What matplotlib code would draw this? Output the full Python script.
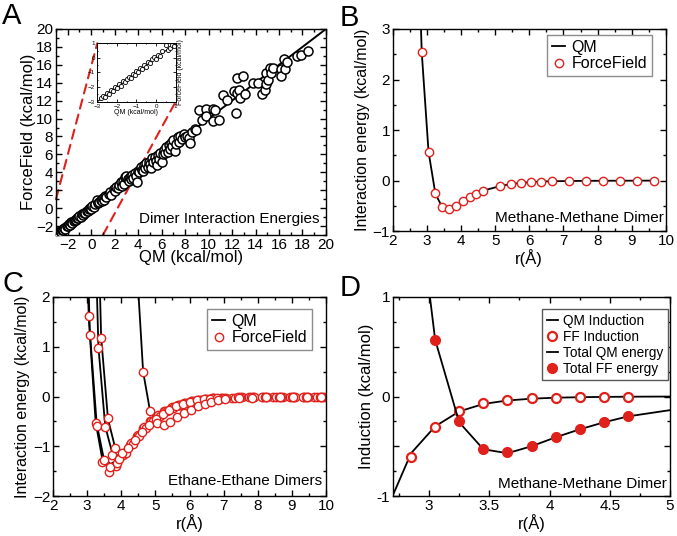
import matplotlib
matplotlib.use('Agg')
import matplotlib.pyplot as plt
from matplotlib.patches import ConnectionPatch
from matplotlib.ticker import MultipleLocator, FuncFormatter

plt.rcParams['font.family'] = ['Liberation Sans', 'DejaVu Sans']

RED = '#e0201b'

# ---------------- Panel A data: QM vs ForceField dimer interaction energies
A_qm = [-2.8, -2.7, -2.6, -2.5, -2.4, -2.3, -2.2, -2.1, -2.0, -1.9, -1.8, -1.7, -1.6, -1.5,
        -1.4, -1.3, -1.2, -1.1, -1.0, -0.9, -0.8, -0.7, -0.6, -0.5, -0.4, -0.3, -0.2, -0.1,
        0.0, 0.1, 0.2, 0.3, 0.5, 0.6, 0.7, 0.8, 0.9, 1.0, 1.1, 1.2, 1.3, 1.5, 1.6, 1.7, 1.9,
        2.0, 2.1, 2.3,
        2.4, 2.5, 2.6, 2.7, 2.8, 2.9, 3.0, 3.1, 3.2, 3.3, 3.4, 3.5, 3.6, 3.7, 3.8, 3.9, 4.0,
        4.1, 4.2, 4.3, 4.4, 4.5, 4.6, 4.7, 4.8, 4.9, 5.0, 5.1, 5.2, 5.3, 5.4, 5.5, 5.6, 5.7,
        5.8, 5.9, 6.0, 6.1, 6.2,
        6.3, 6.4, 6.5, 6.6, 6.7, 6.8, 6.9, 7.0, 7.1, 7.2, 7.4, 7.5, 7.6, 7.7, 7.9, 8.0, 8.2,
        8.3, 8.4, 8.6, 8.8, 8.9,
        9.2, 9.4, 9.8, 9.8, 10.35, 10.4, 10.55, 10.9, 11.2, 11.55, 12.15, 12.35, 12.4, 12.45,
        12.55, 12.7, 12.9, 13.1, 13.75, 14.2, 14.55, 14.8, 14.9, 14.9, 15.1, 15.2, 15.35,
        15.5, 16.2, 16.2, 16.4, 16.5, 16.7, 17.5, 17.9, 18.5]
A_ff = [-2.75, -2.6, -2.65, -2.4, -2.45, -2.2, -2.3, -2.0, -2.05, -1.8, -1.9, -1.6, -1.65, -1.45,
        -1.3, -1.35, -1.1, -1.15, -0.9, -0.95, -0.7, -0.75, -0.5, -0.6, -0.3, -0.35, -0.1, 0.05,
        -0.05, 0.2, 0.1, 0.45, 0.9, 0.55, 0.65, 0.9, 0.8, 1.1, 0.95, 1.3, 1.2, 1.6, 1.8, 1.5, 2.1,
        1.9, 2.4, 2.2,
        2.6, 2.9, 2.5, 3.0, 2.7, 3.5, 3.6, 3.2, 3.0, 3.5, 3.3, 3.7, 3.4, 3.9, 3.6, 2.9, 4.2,
        4.0, 4.6, 4.3, 4.1, 4.8, 4.5, 5.0, 4.6, 5.2, 4.9, 4.5, 5.6, 5.1, 5.7, 5.3, 4.8, 5.9,
        5.5, 6.2, 5.2, 6.0, 6.5,
        6.1, 6.8, 6.3, 7.1, 6.6, 7.3, 6.9, 7.6, 6.4, 7.2, 7.9, 7.4, 8.1, 7.7, 8.3, 7.9, 8.0,
        7.8, 7.3, 8.5, 8.8, 8.7,
        11.0, 9.8, 11.1, 10.3, 11.1, 9.7, 11.0, 9.8, 12.6, 12.1, 13.1, 10.6, 12.8, 14.55,
        13.2, 12.3, 14.75, 12.7, 14.0, 14.0, 12.7, 13.2, 13.9, 15.05, 14.3, 15.6, 15.05,
        15.6, 15.5, 14.7, 16.7, 15.5, 16.35, 17.0, 17.1, 17.5]

# ---------------- Panel B data: methane-methane dimer scan
B_r_qm = [2.65, 2.85, 3.05, 3.25, 3.45, 3.65, 3.85, 4.05, 4.25, 4.45, 4.65, 5.15, 5.45,
          5.75, 6.05, 6.35, 6.65, 7.15, 7.65, 8.15, 8.65, 9.15, 9.65]
B_qm = [7.0, 2.55, 0.57, -0.26, -0.53, -0.57, -0.5, -0.41, -0.33, -0.26, -0.2, -0.11, -0.07,
        -0.05, -0.03, -0.02, -0.015, -0.01, -0.007, -0.005, -0.004, -0.003, -0.002]
B_r_ff = [2.85, 3.05, 3.25, 3.45, 3.65, 3.85, 4.05, 4.25, 4.45, 4.65, 5.15, 5.45,
          5.75, 6.05, 6.35, 6.65, 7.15, 7.65, 8.15, 8.65, 9.15, 9.65]
B_ff = [2.55, 0.57, -0.25, -0.53, -0.56, -0.5, -0.41, -0.33, -0.26, -0.2, -0.11, -0.07,
        -0.05, -0.03, -0.02, -0.015, -0.01, -0.007, -0.005, -0.004, -0.003, -0.002]

# ---------------- Panel C data: ethane-ethane dimers (five orientations)
C_r_a = [2.85, 3.05, 3.25, 3.45, 3.65, 3.85, 4.05, 4.25, 4.45, 4.65, 4.85, 5.05, 5.25, 5.45,
         5.65, 5.85, 6.05, 6.25, 6.45, 6.65, 6.95, 7.25, 7.55, 7.85, 8.15, 8.45, 8.75, 9.05,
         9.35, 9.65, 9.95]
C_qm_a = [6.0, 1.55, -0.52, -1.28, -1.45, -1.35, -1.15, -0.95, -0.77, -0.62, -0.49, -0.38,
          -0.29, -0.22, -0.17, -0.12, -0.09, -0.07, -0.05, -0.04, -0.03, -0.02, -0.015, -0.01,
          -0.008, -0.006, -0.005, -0.004, -0.003, -0.002, -0.001]
C_ff_a = [6.1, 1.62, -0.53, -1.31, -1.51, -1.39, -1.17, -0.97, -0.8, -0.64, -0.5, -0.4,
          -0.3, -0.23, -0.17, -0.13, -0.1, -0.07, -0.05, -0.04, -0.03, -0.02, -0.015, -0.01,
          -0.008, -0.006, -0.005, -0.004, -0.003, -0.002, -0.001]

C_r_b = [2.88, 3.08, 3.28, 3.48, 3.68, 3.88, 4.08, 4.28, 4.48, 4.68, 4.88, 5.08, 5.28, 5.48,
         5.68, 5.88, 6.08, 6.28, 6.48, 6.68, 7.08, 7.48, 7.88, 8.28, 8.68, 9.08, 9.48, 9.88]
C_qm_b = [6.0, 1.3, -0.55, -1.22, -1.36, -1.28, -1.1, -0.92, -0.75, -0.6, -0.47, -0.37,
          -0.28, -0.21, -0.16, -0.12, -0.09, -0.07, -0.05, -0.04, -0.025, -0.015, -0.01,
          -0.007, -0.005, -0.003, -0.002, -0.001]
C_ff_b = [6.1, 1.24, -0.59, -1.27, -1.42, -1.33, -1.13, -0.94, -0.77, -0.62, -0.49, -0.38,
          -0.29, -0.22, -0.17, -0.13, -0.1, -0.07, -0.05, -0.04, -0.025, -0.015, -0.01,
          -0.007, -0.005, -0.003, -0.002, -0.001]

C_r_c = [3.13, 3.33, 3.53, 3.73, 3.93, 4.13, 4.33, 4.53, 4.73, 4.93, 5.13, 5.33, 5.53, 5.73,
         5.93, 6.13, 6.33, 6.53, 6.73, 6.93, 7.33, 7.73, 8.13, 8.53, 8.93, 9.33, 9.73]
C_qm_c = [6.0, 1.0, -0.6, -1.12, -1.2, -1.1, -0.93, -0.77, -0.62, -0.49, -0.38, -0.29,
          -0.22, -0.17, -0.13, -0.1, -0.07, -0.05, -0.04, -0.03, -0.02, -0.012, -0.008,
          -0.005, -0.003, -0.002, -0.001]
C_ff_c = [6.1, 0.97, -0.62, -1.18, -1.25, -1.14, -0.96, -0.79, -0.64, -0.5, -0.39, -0.3,
          -0.23, -0.17, -0.13, -0.1, -0.07, -0.05, -0.04, -0.03, -0.02, -0.012, -0.008,
          -0.005, -0.003, -0.002, -0.001]

C_r_d = [3.21, 3.41, 3.61, 3.81, 4.01, 4.21, 4.41, 4.61, 4.81, 5.01, 5.21, 5.41, 5.61, 5.81,
         6.01, 6.21, 6.41, 6.61, 6.81, 7.01, 7.41, 7.81, 8.21, 8.61, 9.01, 9.41, 9.81]
C_qm_d = [6.5, 1.2, -0.45, -1.0, -1.1, -1.0, -0.85, -0.7, -0.56, -0.44, -0.34, -0.26, -0.2,
          -0.15, -0.11, -0.08, -0.06, -0.045, -0.035, -0.025, -0.015, -0.01, -0.006, -0.004,
          -0.003, -0.002, -0.001]
C_ff_d = [6.6, 1.17, -0.44, -1.04, -1.13, -1.03, -0.87, -0.72, -0.57, -0.45, -0.35, -0.27,
          -0.2, -0.15, -0.11, -0.08, -0.06, -0.045, -0.035, -0.025, -0.015, -0.01, -0.006,
          -0.004, -0.003, -0.002, -0.001]

C_r_e = [4.44, 4.64, 4.84, 5.04, 5.24, 5.44, 5.64, 5.84, 6.04, 6.24, 6.44, 6.64, 6.84, 7.04,
         7.44, 7.84, 8.24, 8.64, 9.04, 9.44, 9.84]
C_qm_e = [2.8, 0.5, -0.28, -0.52, -0.56, -0.51, -0.42, -0.33, -0.26, -0.2, -0.15, -0.11,
          -0.08, -0.06, -0.035, -0.02, -0.012, -0.008, -0.005, -0.003, -0.002]
C_ff_e = [2.9, 0.49, -0.29, -0.54, -0.57, -0.51, -0.42, -0.34, -0.27, -0.2, -0.15, -0.11,
          -0.08, -0.06, -0.035, -0.02, -0.012, -0.008, -0.005, -0.003, -0.002]

# ---------------- Panel D data: induction and total energy, methane dimer
D_r_qm_ind = [2.65, 2.85, 3.05, 3.25, 3.45, 3.65, 3.85, 4.05, 4.25, 4.45, 4.65, 4.85, 5.05]
D_qm_ind = [-1.13, -0.57, -0.30, -0.15, -0.075, -0.04, -0.022, -0.012, -0.007, -0.004,
            -0.002, -0.001, -0.0005]
D_r_ff = [2.85, 3.05, 3.25, 3.45, 3.65, 3.85, 4.05, 4.25, 4.45, 4.65]
D_ff_ind = [-0.61, -0.31, -0.145, -0.07, -0.04, -0.02, -0.01, -0.006, -0.004, -0.003]
D_r_tot = [3.05, 3.25, 3.45, 3.65, 3.85, 4.05, 4.25, 4.45, 4.65]
D_ff_tot = [0.57, -0.25, -0.53, -0.56, -0.5, -0.41, -0.33, -0.26, -0.2]

fig = plt.figure(figsize=(6.77, 5.36), dpi=100)


def style(ax, xmaj, xmin, ymaj, ymin, size=11):
    ax.xaxis.set_major_locator(MultipleLocator(xmaj))
    ax.xaxis.set_minor_locator(MultipleLocator(xmin))
    ax.yaxis.set_major_locator(MultipleLocator(ymaj))
    ax.yaxis.set_minor_locator(MultipleLocator(ymin))
    ax.tick_params(which='both', direction='in', top=True, right=True,
                   labelsize=size, pad=2, width=1)
    ax.tick_params(which='major', length=4.5)
    ax.tick_params(which='minor', length=2.5)
    for s in ax.spines.values():
        s.set_linewidth(1.0)


# ---------------- A
axA = fig.add_axes([0.0827, 0.5616, 0.3988, 0.3843])
axA.axline((0, 0), slope=1, color='black', lw=1.4, zorder=2)
axA.plot(A_qm, A_ff, 'o', mfc='white', mec='black', ms=6.5, mew=1.1, zorder=3)
axA.set_xlim(-3, 20)
axA.set_ylim(-3, 20)
style(axA, 2, 1, 2, 1)
axA.set_xlabel('QM (kcal/mol)', fontsize=12, labelpad=-1)
axA.set_ylabel('ForceField (kcal/mol)', fontsize=12, labelpad=0)
axA.text(0.975, 0.045, 'Dimer Interaction Energies', transform=axA.transAxes,
         ha='right', va='bottom', fontsize=11)

axI = fig.add_axes([0.1437, 0.8103, 0.1158, 0.109])
axI.axline((0, 0), slope=1, color='black', lw=0.8)
axI.plot(A_qm, A_ff, 'o', mfc='white', mec='black', ms=3, mew=0.6)
axI.set_xlim(-3, 1)
axI.set_ylim(-3, 1)
axI.xaxis.set_major_locator(MultipleLocator(1))
axI.yaxis.set_major_locator(MultipleLocator(1))
axI.xaxis.set_minor_locator(MultipleLocator(0.5))
axI.yaxis.set_minor_locator(MultipleLocator(0.5))
axI.tick_params(which='both', direction='in', top=True, right=True, labelsize=4.5,
                width=0.6)
axI.tick_params(axis='x', which='both', pad=2)
axI.tick_params(axis='y', which='both', pad=1.5)
axI.tick_params(which='major', length=2)
axI.tick_params(which='minor', length=1)
for s in axI.spines.values():
    s.set_linewidth(0.7)
axI.set_xlabel('QM (kcal/mol)', fontsize=5, labelpad=0)
axI.yaxis.set_label_position('right')
axI.set_ylabel('ForceField (kcal/mol)', fontsize=5, labelpad=1, rotation=90)

for (pa, pb) in [((-3, 1), (-3, 1)), ((1, -3), (1, -3))]:
    con = ConnectionPatch(xyA=pa, coordsA=axA.transData, xyB=pb, coordsB=axI.transData,
                          color=RED, lw=1.5, linestyle=(0, (4.5, 3)), zorder=1)
    axA.add_artist(con)

# ---------------- B
axB = fig.add_axes([0.580, 0.569, 0.4037, 0.3769])
axB.plot(B_r_qm, B_qm, '-', color='black', lw=1.3, label='QM')
axB.plot(B_r_ff, B_ff, 'o', mfc='white', mec=RED, ms=6, mew=1.0, label='ForceField')
axB.set_xlim(2, 10)
axB.set_ylim(-1, 3)
style(axB, 1, 0.5, 1, 0.5)
axB.set_xlabel('r(Å)', fontsize=12, labelpad=1)
axB.set_ylabel('Interaction energy (kcal/mol)', fontsize=11.5, labelpad=2)
axB.text(0.993, 0.03, 'Methane-Methane Dimer', transform=axB.transAxes,
         ha='right', va='bottom', fontsize=11)
axB.legend(loc='upper right', bbox_to_anchor=(0.948, 0.97), borderaxespad=0,
           fontsize=11.5, handlelength=0.8, handletextpad=0.4, labelspacing=0.1,
           fancybox=False, edgecolor='0.55', framealpha=1, borderpad=0.3)

# ---------------- C
axC = fig.add_axes([0.0783, 0.0746, 0.4033, 0.3713])
curves = [(C_r_a, C_qm_a, C_ff_a), (C_r_b, C_qm_b, C_ff_b), (C_r_c, C_qm_c, C_ff_c),
          (C_r_d, C_qm_d, C_ff_d), (C_r_e, C_qm_e, C_ff_e)]
for i, (r, qm, ff) in enumerate(curves):
    axC.plot(r, qm, '-', color='black', lw=1.3, label='QM' if i == 0 else None)
for i, (r, qm, ff) in enumerate(curves):
    axC.plot(r, ff, 'o', mfc='white', mec=RED, ms=6, mew=1.0,
             label='ForceField' if i == 0 else None)
axC.set_xlim(2, 10)
axC.set_ylim(-2, 2)
style(axC, 1, 0.5, 1, 0.5)
axC.set_xlabel('r(Å)', fontsize=12, labelpad=1)
axC.set_ylabel('Interaction energy (kcal/mol)', fontsize=11.5, labelpad=2)
axC.text(0.984, 0.04, 'Ethane-Ethane Dimers', transform=axC.transAxes,
         ha='right', va='bottom', fontsize=11)
axC.legend(loc='upper right', bbox_to_anchor=(0.948, 0.94), borderaxespad=0,
           fontsize=11.5, handlelength=0.8, handletextpad=0.4, labelspacing=0.1,
           fancybox=False, edgecolor='0.55', framealpha=1, borderpad=0.3)

# ---------------- D
axD = fig.add_axes([0.5805, 0.0746, 0.4092, 0.3713])
axD.plot(D_r_qm_ind, D_qm_ind, '-', color='black', lw=1.3, label='QM Induction')
axD.plot(D_r_ff, D_ff_ind, 'o', mfc='white', mec=RED, ms=6.5, mew=1.6, label='FF Induction')
axD.plot(B_r_qm, B_qm, '-', color='black', lw=1.3, label='Total QM energy')
axD.plot(D_r_tot, D_ff_tot, 'o', color=RED, ms=7, label='Total FF energy')
axD.set_xlim(2.7, 5)
axD.set_ylim(-1, 1)
style(axD, 0.5, 0.25, 0.5, 0.25)
axD.yaxis.set_major_formatter(FuncFormatter(lambda v, p: '%g' % v if abs(v - round(v)) < 1e-9 else ''))
axD.xaxis.set_major_formatter(FuncFormatter(lambda v, p: '' if abs(v - 2.7) < 1e-9 else '%g' % v))
axD.set_xlabel('r(Å)', fontsize=12, labelpad=1)
axD.set_ylabel('Induction (kcal/mol)', fontsize=12, labelpad=2)
axD.text(0.99, 0.025, 'Methane-Methane Dimer', transform=axD.transAxes,
         ha='right', va='bottom', fontsize=11)
axD.legend(loc='upper right', bbox_to_anchor=(0.993, 0.941), borderaxespad=0,
           fontsize=9.8, handlelength=0.8, handletextpad=0.4, labelspacing=0.15,
           fancybox=False, edgecolor='0.35', framealpha=1, borderpad=0.35)

# panel letters
fig.text(0.003, 0.997, 'A', fontsize=21, va='top', ha='left')
fig.text(0.502, 0.993, 'B', fontsize=21, va='top', ha='left')
fig.text(0.003, 0.497, 'C', fontsize=21, va='top', ha='left')
fig.text(0.502, 0.489, 'D', fontsize=21, va='top', ha='left')

fig.savefig('out.png', dpi=100)
